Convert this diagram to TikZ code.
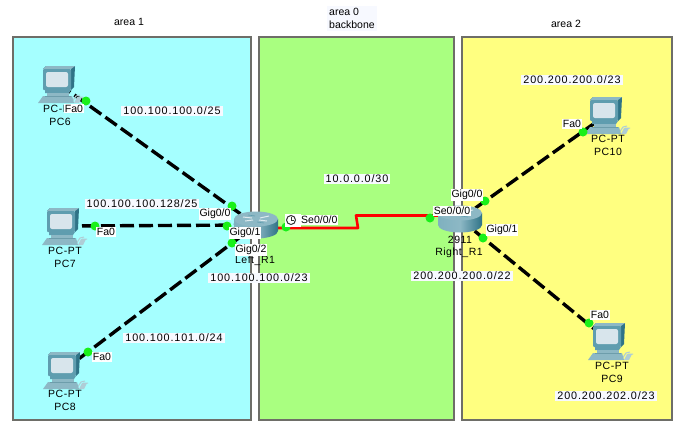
\documentclass[tikz,border=0pt]{standalone}
\usepackage{fontspec}
\setmainfont{Liberation Sans}
\newfontfamily\netfont[LetterSpace=8]{Liberation Sans}
\newfontfamily\devfont[LetterSpace=5]{Liberation Sans}
\definecolor{areacyan}{HTML}{A5FFFF}
\definecolor{areagreen}{HTML}{A9FF80}
\definecolor{areayellow}{HTML}{FFFF80}
\definecolor{areaborder}{HTML}{6E6E68}
\definecolor{tealdark}{HTML}{2F7387}
\definecolor{tealmid}{HTML}{5F9DAF}
\definecolor{teallight}{HTML}{8DB8C5}
\definecolor{screenc}{HTML}{D8E5EC}
\definecolor{linkgreen}{HTML}{19F019}
\definecolor{netbg}{HTML}{F7F9FF}
\tikzset{
  area/.style={draw=areaborder,line width=2pt},
  link/.style={line width=3.4pt,dash pattern=on 14pt off 5pt,black},
  serial/.style={line width=2.6pt,red,line join=round},
  port/.style={circle,fill=linkgreen,inner sep=0pt,minimum size=9pt},
  iflabel/.style={fill=white,inner sep=1pt,font=\fontsize{10.5}{12}\selectfont,text=black},
  netlabel/.style={fill=netbg,inner xsep=2pt,inner ysep=1pt,font=\netfont\fontsize{10.8}{12}\selectfont,text=black},
  devlabel/.style={inner sep=0pt,font=\devfont\fontsize{10.5}{12}\selectfont,text=black},
  arealabel/.style={inner sep=0pt,font=\fontsize{10.5}{13}\selectfont,text=black},
  pcicon/.pic={
    % mouse and cable
    \draw[teallight!70,line width=1pt] (13,18) -- (17,12) -- (21,11) (19,13) -- (24,13);
    \fill[teallight!70] (15,19) -- (18,13) -- (23,13) -- (20,19) -- cycle;
    % monitor
    \fill[tealdark] (-16,-15) -- (-13,-18) -- (16,-18) -- (15,3) -- (12,6) -- (12,-15) -- cycle;
    \fill[teallight] (-16,-15) -- (-13,-18) -- (16,-18) -- (12,-15) -- cycle;
    \fill[tealmid,rounded corners=1pt] (-16,-15) rectangle (12,6);
    \fill[screenc,rounded corners=2pt] (-13,-12) rectangle (9,3);
    % stand
    \fill[tealmid] (-14,6) -- (12,6) -- (10,9) -- (-14,9) -- cycle;
    \fill[teallight] (-12,9) -- (10,9) -- (10,12) -- (-12,12) -- cycle;
    % keyboard
    \fill[teallight] (-16,12) -- (13,12) -- (15,19) -- (-21,19) -- cycle;
    \draw[tealdark!70,line width=.6pt] (-14,12) -- (12,12);
  },
  routericon/.pic={
    \shade[left color=tealmid!80!white,right color=tealdark,middle color=teallight]
      (-22,-6) -- (-22,6) arc[start angle=180,end angle=0,x radius=22,y radius=7.5]
      -- (22,-6) -- cycle;
    \fill[teallight] (0,-6) ellipse[x radius=22,y radius=7.5];
    \draw[white!70!teallight,line width=1pt]
      (-13,-8) -- (-4,-7) (-11,-4) -- (-3,-5) (13,-9) -- (4,-7) (11,-4) -- (3,-5);
    \draw[tealmid,line width=.6pt] (-8,-10) -- (-1,-9) (8,-2) -- (1,-3);
  },
}
\begin{document}
\begin{tikzpicture}[x=1pt,y=-1pt]
\useasboundingbox (0,0) rectangle (688,437);
\fill[white] (0,0) rectangle (688,437);
% areas
\draw[area,fill=areacyan] (13,37) rectangle (251,420);
\draw[area,fill=areagreen] (259,37) rectangle (454,420);
\draw[area,fill=areayellow] (462,37) rectangle (672,420);
% anchors of the devices
\coordinate (pc6) at (59,84);
\coordinate (pc7) at (63,226);
\coordinate (pc8) at (64,370);
\coordinate (pc10) at (606,115);
\coordinate (pc9) at (609,341);
\coordinate (lr) at (256,225);
\coordinate (rr) at (460,219);
\coordinate (kinkA) at (358,228);
\coordinate (kinkB) at (356,215.5);
% connectors
\draw[link] (pc6) -- (lr);
\draw[link] (pc7) -- (lr);
\draw[link] (pc8) -- (lr);
\draw[link] (rr) -- (pc10);
\draw[link] (rr) -- (pc9);
\draw[serial] (lr |- kinkA) -- (kinkA) -- (kinkB) -- (rr |- kinkB);
% devices
\pic at (pc6) {pcicon};
\pic at (pc7) {pcicon};
\pic at (pc8) {pcicon};
\pic at (pc10) {pcicon};
\pic at (pc9) {pcicon};
\pic at (lr) {routericon};
\pic at (rr) {routericon};
% ports
\node[port] (p6) at (86,101) {};
\node[port] (p7) at (95,226) {};
\node[port] (p8) at (88,352) {};
\node[port] (p10) at (583,132) {};
\node[port] (p9) at (589,323) {};
\node[port] (l0) at (232,206) {};
\node[port] (l1) at (227,226) {};
\node[port] (l2) at (232,243) {};
\node[port] (ls) at (286,227) {};
\node[port] (rs) at (430,218) {};
\node[port] (r0) at (485,201) {};
\node[port] (r1) at (483,238) {};
% device names
\node[devlabel] (n6a) at (60,109) {PC-PT};
\node[devlabel] (n6b) at (60,122) {PC6};
\node[devlabel] (n7a) at (65,251) {PC-PT};
\node[devlabel] (n7b) at (65,264) {PC7};
\node[devlabel] (n8a) at (65,394) {PC-PT};
\node[devlabel] (n8b) at (65,407) {PC8};
\node[devlabel] (n10a) at (608,139) {PC-PT};
\node[devlabel] (n10b) at (608,152) {PC10};
\node[devlabel] (n9a) at (612,366) {PC-PT};
\node[devlabel] (n9b) at (612,379) {PC9};
\node[devlabel] (nl) at (255,261) {Left\_R1};
\node[devlabel] (nr0) at (460,240) {2911};
\node[devlabel] (nr1) at (459,253) {Right\_R1};
% interface labels
\node[iflabel] (f6) at (74,108.5) {Fa0};
\node[iflabel] (f7) at (106,232) {Fa0};
\node[iflabel] (f8) at (102,357) {Fa0};
\node[iflabel] (f10) at (572,124) {Fa0};
\node[iflabel] (f9) at (600,315) {Fa0};
\node[iflabel] (g0) at (215,214) {Gig0/0};
\node[iflabel] (g1) at (245,233) {Gig0/1};
\node[iflabel] (g2) at (251,250) {Gig0/2};
\node[iflabel] (gr0) at (467,195) {Gig0/0};
\node[iflabel] (ser) at (452,211) {Se0/0/0};
\node[iflabel] (gr1) at (502,230) {Gig0/1};
\node[fill=white,inner sep=0pt,minimum width=16pt,minimum height=13pt] (clockbg) at (293,220) {};
\node[iflabel,anchor=west] (sel) at (300,220) {Se0/0/0};
\node[circle,draw=black!80,fill=white,line width=1pt,inner sep=0pt,minimum size=9pt] (clock) at (291,220) {};
\draw[black!80,line width=.7pt] (clock.center) -- ++(0,-3.5) (clock.center) -- ++(2.8,0);
% networks
\node[netlabel] (a1) at (172,111) {100.100.100.0/25};
\node[netlabel] (a2) at (142,204) {100.100.100.128/25};
\node[netlabel] (a3) at (174,338) {100.100.101.0/24};
\node[netlabel] (a4) at (259,278) {100.100.100.0/23};
\node[netlabel] (b1) at (357,179) {10.0.0.0/30};
\node[netlabel] (c1) at (572,80) {200.200.200.0/23};
\node[netlabel] (c2) at (462,276) {200.200.200.0/22};
\node[netlabel] (c3) at (606,396) {200.200.202.0/23};
% area titles
\node[arealabel] (t1) at (129,22) {area 1};
\node[arealabel,fill=netbg,inner sep=2pt,align=left,anchor=north west] (t0) at (327,6) {area 0\\backbone};
\node[arealabel] (t2) at (566,24) {area 2};
\end{tikzpicture}
\end{document}
